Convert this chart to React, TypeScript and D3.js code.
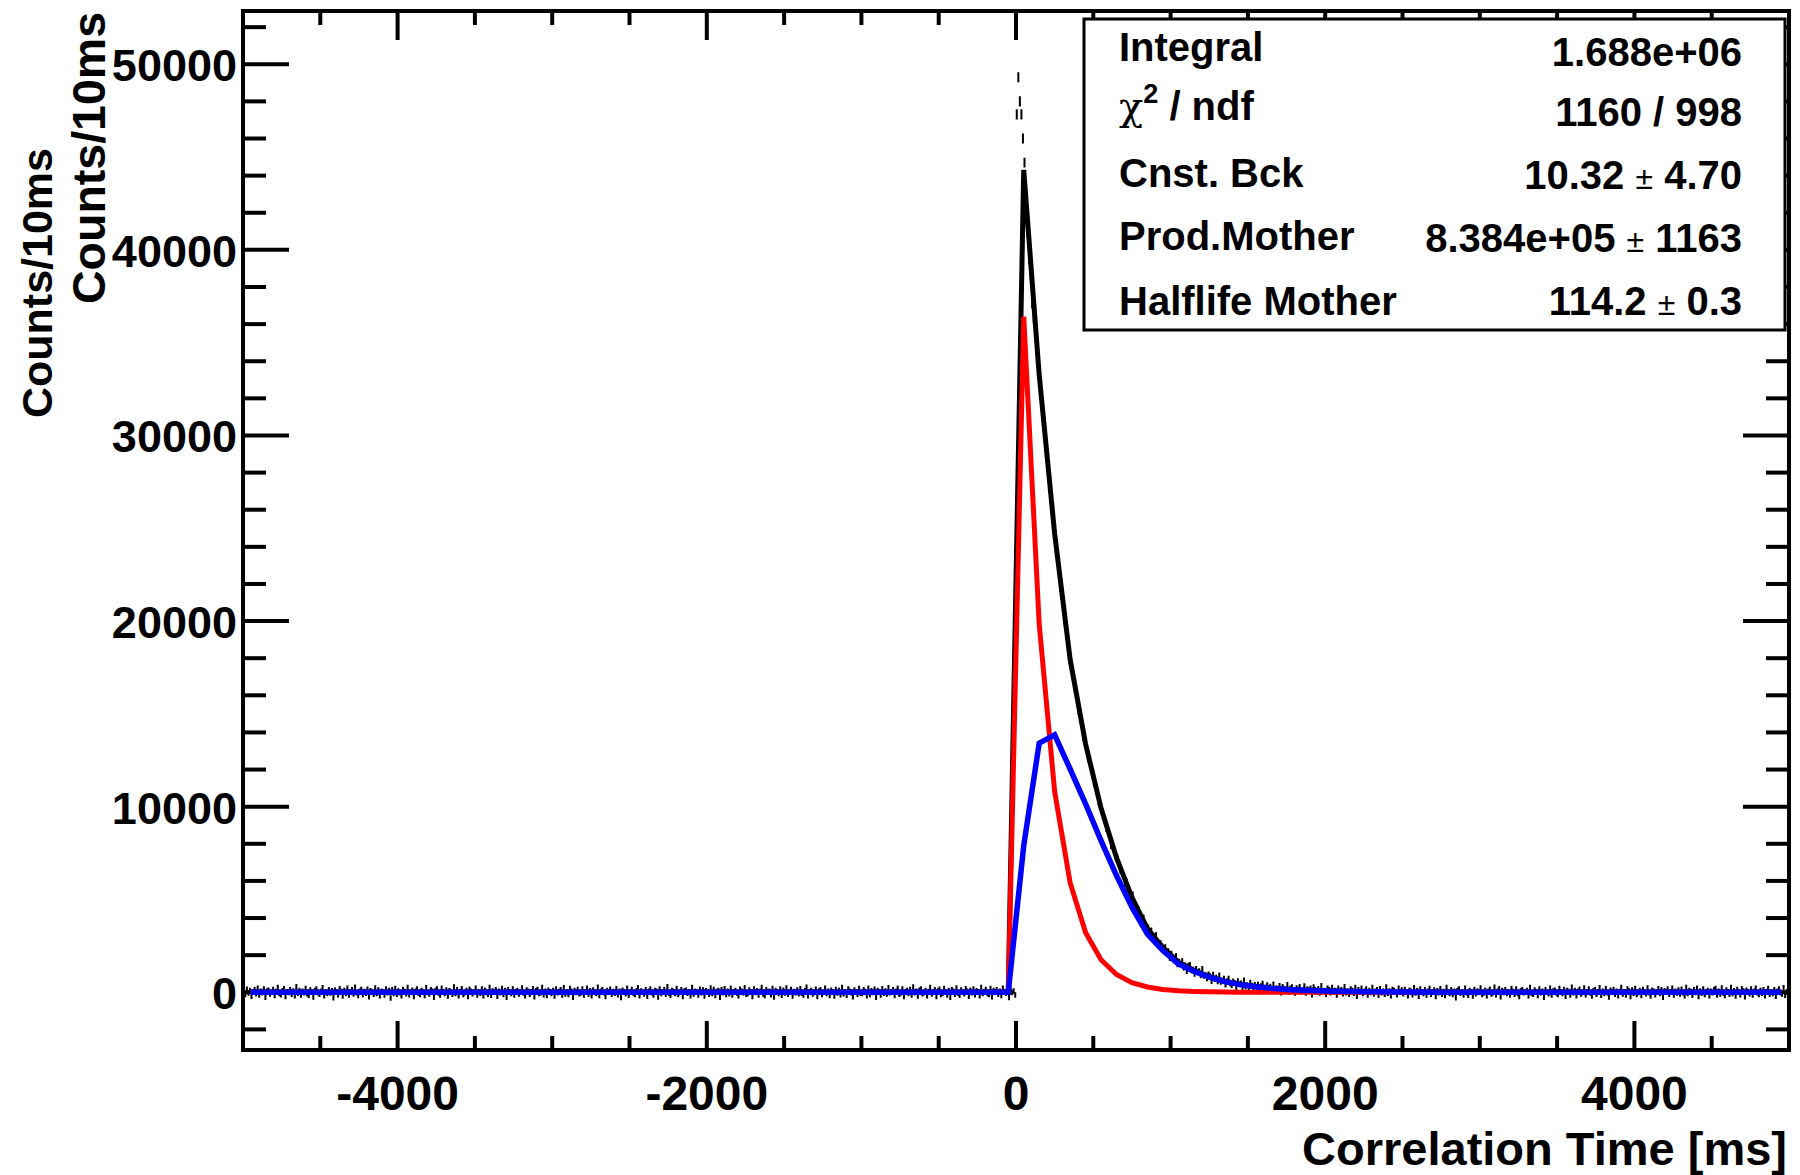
import React from "react";
import * as d3 from "d3";

// ---------- axis definitions ----------
const xDomain: [number, number] = [-5000, 5000];
const yDomain: [number, number] = [-3110, 52870];
const xTickLabels = [-4000, -2000, 0, 2000, 4000];
const xMinorStep = 500;
const yTickLabels = [0, 10000, 20000, 30000, 40000, 50000];
const yMinorStep = 2000;
const xTitle = "Correlation Time [ms]";
const yTitle = "Counts/10ms";

// ---------- histogram (10 ms bins from -5000 to 5000) ----------
const BIN_START = -5000;
const BIN_WIDTH = 10;
const BASE_ERROR = 150;

// t = -4995 ... -5 ms
const countsNeg = [
  30, -120, 160, -40, 90, -210, 10, 140, -80, 220, -150, 60, -20, 180, -260, 70, 110, -90, 0, 150,
  -170, 40, 250, -60, -130, 80, 190, -230, 20, -10, 130, -100, 70, -190, 300, -50, 100, -140, 50, -30,
  200, -80, -160, 120, 30, -250, 90, 170, -20, -110, 60, 240, -180, 10, -70, 140, -40, 80, -290, 110,
  20, -130, 190, 50, -200, 100, -60, 210, -150, 0, 130, -90, 270, -30, -170, 60, 150, -120, 40, -50,
  160, -240, 80, 20, -100, 230, -70, 120, -180, 50, 10, -140, 180, -20, 90, -310, 140, -60, 200, -110,
  70, -30, -190, 150, 40, -80, 260, -130, 0, 110, -220, 60, 170, -50, -120, 90, 30, -170, 240, -10,
  -90, 130, 50, -260, 100, 180, -40, -150, 210, 20, -70, 120, -200, 80, 10, -110, 280, -60, 140, -180,
  40, 190, -120, -20, 90, -230, 160, 60, -80, 0, 220, -140, 30, -50, 170, -190, 110, -10, -100, 250,
  -160, 70, 20, 140, -210, 50, -30, 200, -120, 90, -270, 130, 10, -60, 180, -150, 40, 100, -90, 30,
  230, -40, -180, 120, 60, -110, 0, 190, -240, 80, 150, -70, -20, 260, -130, 50, -170, 110, 20, -60,
  90, -200, 170, -30, 40, 130, -150, 240, -90, 10, -120, 200, 60, -260, 100, -10, 150, -80, -40, 180,
  -140, 30, 210, -100, 80, -190, 120, 0, -60, 270, -170, 50, 140, -30, -220, 90, 20, 160, -110, 40,
  -50, 190, -130, 60, -280, 110, 30, -80, 220, -160, 10, 150, -40, -120, 80, 240, -190, 70, 0, -90,
  130, -210, 50, 170, -20, -140, 100, 60, -250, 180, -70, 20, 130, -110, 290, -40, -160, 90, 40, -60,
  200, -120, -10, 140, -230, 70, 110, -50, 30, -180, 250, -90, 60, 0, -140, 160, -30, 120, -200, 80,
  10, -100, 230, -60, 150, -170, 40, 90, -270, 130, -20, 190, -120, 50, -80, 210, -150, 20, 100, -40,
  -190, 160, 70, -30, 240, -110, -60, 120, 30, -220, 180, -10, 80, -140, 50, 260, -90, -170, 140, 0,
  60, -130, 200, -250, 90, 20, -70, 170, -160, 110, -40, 230, -100, 10, 150, -200, 40, -20, 120, -80,
  190, -50, -140, 80, 270, -180, 30, 100, -90, -10, 160, -230, 70, 140, -120, 0, 210, -60, 50, -170,
  110, 20, -200, 150, -40, 90, -130, 250, -80, 30, -160, 180, 60, -20, -240, 120, 10, -100, 200, -50,
  -70, 140, 40, -190, 220, -120, 80, -10, 160, -260, 100, 30, -150, 190, -50, 70, -90, 240, -30, 0,
  130, -170, 60, 210, -110, -40, 180, -230, 20, 90, -60, 150, -140, 280, -20, 50, -200, 110, 170, -80,
  -30, 100, -180, 40, 250, -90, 0, 130, -220, 70, 160, -120, -50, 200, 10, -150, 90, -270, 140, 60,
  -100, 230, -40, -160, 120, 30, -80, 190, 50, -210, 110, -20, 170, -130, 80, 20, -190, 260, -70, 40,
  150, -60, -120, 200, -240, 90, 10, 140, -100, 60, -170, 220, 30, -40, 120, -280, 180, -10, 70, -150,
];

// t = 5 ... 2495 ms
const countsPeak = [
  47300, 49300, 48000, 47300, 46000, 44700, 41980, 40900, 39470, 38600,
  37090, 36270, 35380, 34210, 33800, 32720, 31640, 31010, 29900, 28830,
  28240, 27460, 26440, 25490, 25210, 24320, 23460, 22860, 21790, 21350,
  20750, 19900, 19170, 18930, 18170, 17560, 17220, 16420, 16170, 15890,
  15090, 14690, 14440, 13710, 13610, 13190, 12550, 12590, 12000, 11750,
  11230, 11260, 10680, 10190, 10180, 9820, 9400, 9400, 8790, 8660,
  8470, 7870, 8020, 7680, 7290, 7320, 6880, 6530, 6570, 6280,
  5830, 5990, 5580, 5490, 5100, 5280, 4790, 4690, 4330, 4470,
  4210, 3890, 4040, 3440, 3500, 3500, 3190, 3340, 2920, 3000,
  3100, 2700, 2460, 2650, 2510, 2240, 2440, 2170, 2220, 1840,
  2090, 1900, 1720, 1970, 1500, 1660, 1540, 1680, 1330, 1460,
  1130, 1440, 1480, 1180, 1230, 980, 1270, 1070, 1150, 910,
  1270, 880, 930, 740, 970, 880, 600, 950, 710, 800,
  580, 910, 560, 630, 740, 410, 610, 740, 470, 380,
  590, 510, 240, 600, 420, 480, 250, 640, 300, 390,
  250, 530, 370, 130, 400, 270, 420, 50, 340, 470,
  160, 260, 390, 80, 310, 170, 430, 90, 230, 120,
  350, -20, 290, 170, 80, 400, 20, 210, 280, 120,
  -40, 230, 150, 290, 20, 70, 330, -40, 180, 100,
  220, -130, 280, 140, 10, 190, -40, 350, 40, 90,
  -100, 220, 130, -30, 250, 10, 100, -150, 210, 40,
  140, -80, 290, -20, 50, -110, 170, 100, -50, 250,
  -210, 140, 10, 210, -70, 60, 180, -150, 100, -10,
  250, -90, 50, 130, -160, 190, -30, 60, -110, 280,
  -50, 70, -180, 150, 100, 0, -130, 210, 20, 120,
];
const peakErrors = [
  270, 275, 272, 270, 267, 264, 259, 257, 254, 252,
  250, 248, 246, 244, 242, 240, 238, 236, 234, 232,
  230, 229, 227, 225, 224, 222, 221, 219, 217, 216,
];

// t = 2505 ... 4995 ms
const countsTail = [
  -80, 150, 20, -190, 110, 60, -130, 240, -40, 90, -210, 170, 0, -60, 130, -150, 50, 200, -100, 30,
  120, -230, 80, -20, 190, -110, 40, -170, 260, 10, -70, 140, -120, 60, -290, 100, 180, -50, 20, -140,
  210, -30, -160, 90, 30, -200, 150, -80, 70, 0, 230, -120, -40, 110, -180, 50, 160, -90, -20, 270,
  -130, 60, 190, -240, 100, -10, 140, -70, 20, -150, 200, 40, -110, 170, -60, -220, 80, 130, -30, 10,
  90, -190, 250, -50, -100, 120, 30, -170, 180, -20, 60, -260, 140, 0, -80, 220, -140, 70, 110, -40,
  -120, 200, 10, -60, 150, -210, 90, 40, -150, 270, -30, 100, -180, 50, 160, -90, -10, 230, -130, 20,
  170, -40, -200, 80, 130, -110, 0, 240, -160, 60, -70, 190, -20, -250, 110, 30, 150, -100, 50, -180,
  40, 260, -90, 10, -140, 180, 70, -220, 120, -50, 200, -120, -10, 90, -170, 150, 20, -80, 230, -30,
  -200, 110, 60, -130, 20, 190, -60, 140, -270, 80, 0, 170, -110, 30, 220, -150, 50, -40, 120, -90,
  160, -20, -180, 250, -70, 100, 40, -160, 130, -10, 210, -230, 70, -50, 180, -120, 10, 90, -190, 60,
  -30, 140, 200, -140, 50, -90, 230, -40, -170, 120, 20, -110, 260, -60, 80, -200, 150, 0, -130, 190,
  70, -240, 110, 30, -80, 170, -150, 60, 220, -20, -120, 90, -50, 140, -180, 40, 200, -100, 10, -60,
  130, -210, 50, 180, -30, -90, 240, -160, 20, 100,
];

// ---------- fit functions, sampled every 100 ms from -4950 to 4950 ----------
const FIT_START = -4950;
const FIT_STEP = 100;
const fitTotal = [
  10, 10, 10, 10, 10, 10, 10, 10, 10, 10, 10, 10, 10, 10, 10, 10, 10, 10, 10, 10,
  10, 10, 10, 10, 10, 10, 10, 10, 10, 10, 10, 10, 10, 10, 10, 10, 10, 10, 10, 10,
  10, 10, 10, 10, 10, 10, 10, 10, 10, 10,
  44310, 33280, 24700, 17940, 13375, 9930, 7255, 5110, 3435, 2410,
  1625, 1186, 845, 599, 431, 314, 227, 166, 123, 90,
  68, 52, 40, 32, 26, 21, 18, 16, 14, 13,
  12, 11, 11, 11, 10, 10, 10, 10, 10, 10,
  10, 10, 10, 10, 10, 10, 10, 10, 10, 10,
];
const fitMother = [
  0, 0, 0, 0, 0, 0, 0, 0, 0, 0, 0, 0, 0, 0, 0, 0, 0, 0, 0, 0,
  0, 0, 0, 0, 0, 0, 0, 0, 0, 0, 0, 0, 0, 0, 0, 0, 0, 0, 0, 0,
  0, 0, 0, 0, 0, 0, 0, 0, 0, 0,
  36400, 19850, 10820, 5900, 3215, 1750, 955, 520, 285, 155,
  85, 46, 25, 14, 8, 4, 2, 1, 1, 0,
  0, 0, 0, 0, 0, 0, 0, 0, 0, 0,
  0, 0, 0, 0, 0, 0, 0, 0, 0, 0,
  0, 0, 0, 0, 0, 0, 0, 0, 0, 0,
];
const fitDaughter = [
  0, 0, 0, 0, 0, 0, 0, 0, 0, 0, 0, 0, 0, 0, 0, 0, 0, 0, 0, 0,
  0, 0, 0, 0, 0, 0, 0, 0, 0, 0, 0, 0, 0, 0, 0, 0, 0, 0, 0, 0,
  0, 0, 0, 0, 0, 0, 0, 0, 0, 0,
  7900, 13420, 13870, 12030, 10150, 8170, 6290, 4580, 3140, 2245,
  1530, 1130, 810, 575, 413, 300, 215, 155, 112, 80,
  58, 42, 30, 22, 16, 11, 8, 6, 4, 3,
  2, 1, 1, 1, 0, 0, 0, 0, 0, 0,
  0, 0, 0, 0, 0, 0, 0, 0, 0, 0,
];

// ---------- statistics box ----------
const statLabels = ["Integral", "χ^2 / ndf", "Cnst. Bck", "Prod.Mother", "Halflife Mother"];
const statValues = ["1.688e+06", "1160 / 998", "10.32 ± 4.70", "8.384e+05 ± 1163", "114.2 ± 0.3"];

// ---------- layout ----------
const W = 1800;
const H = 1175;
const FR = { left: 243, right: 1789, top: 11, bottom: 1050 };
const FONT = "'Liberation Sans', Arial, Helvetica, sans-serif";
const STAT_BOX = { x0: 1084, y0: 19, x1: 1785, y1: 330 };
const STAT_LABEL_X = 1119;
const STAT_VALUE_X = 1742;
const STAT_LABEL_BASE = [61, 120, 187, 250, 315];
const STAT_VALUE_BASE = [66, 126, 189, 252, 315];

function renderRich(s: string) {
  const parts: React.ReactNode[] = [];
  if (s.includes("^2")) {
    const [a, b] = s.split("^2");
    const rest = a.replace("χ", "");
    parts.push(
      <tspan key="chi" fontFamily="'DejaVu Serif', 'Liberation Serif', serif" fontWeight="normal">χ</tspan>
    );
    if (rest) parts.push(<tspan key="g">{rest}</tspan>);
    parts.push(<tspan key="sup" fontSize={27} dy={-17}>2</tspan>);
    parts.push(<tspan key="rest" dy={17}>{b}</tspan>);
    return parts;
  }
  const segs = s.split("±");
  segs.forEach((seg, i) => {
    if (i > 0) parts.push(<tspan key={"pm" + i} fontWeight="normal" fontSize={32}>±</tspan>);
    parts.push(<tspan key={"s" + i}>{seg}</tspan>);
  });
  return parts;
}

export default function App() {
  const x = d3.scaleLinear().domain(xDomain).range([FR.left, FR.right]);
  const y = d3.scaleLinear().domain(yDomain).range([FR.bottom, FR.top]);

  const counts = [...countsNeg, ...countsPeak, ...countsTail];
  const path = d3.path();
  counts.forEach((v, i) => {
    const t0 = BIN_START + i * BIN_WIDTH;
    const tc = t0 + BIN_WIDTH / 2;
    const k = i - countsNeg.length;
    const e = k >= 0 && k < peakErrors.length ? peakErrors[k] : BASE_ERROR;
    path.moveTo(x(tc), y(v + e));
    path.lineTo(x(tc), y(v - e));
    path.moveTo(x(t0), y(v));
    path.lineTo(x(t0 + BIN_WIDTH), y(v));
  });

  const line = d3
    .line<number>()
    .x((_, j) => x(FIT_START + j * FIT_STEP))
    .y((v) => y(v));

  const xMinor = d3.range(xDomain[0] + xMinorStep, xDomain[1], xMinorStep).filter((t) => !xTickLabels.includes(t));
  const yMinor = d3.range(-2000, yDomain[1], yMinorStep).filter((t) => !yTickLabels.includes(t));

  const majX = 29, minX = 14, majY = 46, minY = 23;

  return (
    <svg
      width={W}
      height={H}
      viewBox={`0 0 ${W} ${H}`}
      style={{ position: "absolute", left: 0, top: 0, background: "#fff" }}
      fontFamily={FONT}
      fontWeight="bold"
    >
      <rect x={0} y={0} width={W} height={H} fill="#fff" />

      {/* axis ticks */}
      <g stroke="#000" strokeWidth={4} fill="none">
        {xTickLabels.map((t) => (
          <g key={"xM" + t}>
            <line x1={x(t)} x2={x(t)} y1={FR.bottom} y2={FR.bottom - majX} />
            <line x1={x(t)} x2={x(t)} y1={FR.top} y2={FR.top + majX} />
          </g>
        ))}
        {xMinor.map((t) => (
          <g key={"xm" + t}>
            <line x1={x(t)} x2={x(t)} y1={FR.bottom} y2={FR.bottom - minX} />
            <line x1={x(t)} x2={x(t)} y1={FR.top} y2={FR.top + minX} />
          </g>
        ))}
        {yTickLabels.map((t) => (
          <g key={"yM" + t}>
            <line x1={FR.left} x2={FR.left + majY} y1={y(t)} y2={y(t)} />
            <line x1={FR.right} x2={FR.right - majY} y1={y(t)} y2={y(t)} />
          </g>
        ))}
        {yMinor.map((t) => (
          <g key={"ym" + t}>
            <line x1={FR.left} x2={FR.left + minY} y1={y(t)} y2={y(t)} />
            <line x1={FR.right} x2={FR.right - minY} y1={y(t)} y2={y(t)} />
          </g>
        ))}
        <rect x={FR.left} y={FR.top} width={FR.right - FR.left} height={FR.bottom - FR.top} />
      </g>

      {/* tick labels */}
      <g fontSize={45} textAnchor="end">
        {yTickLabels.map((t) => (
          <text key={"yl" + t} x={237} y={y(t) + 17}>
            {String(t)}
          </text>
        ))}
      </g>
      <g fontSize={48} textAnchor="middle">
        {xTickLabels.map((t) => (
          <text key={"xl" + t} x={x(t)} y={1110}>
            {String(t)}
          </text>
        ))}
      </g>

      {/* axis titles */}
      <text x={1787} y={1165} fontSize={47} textAnchor="end">
        {xTitle}
      </text>
      <text transform="translate(52,148) rotate(-90)" fontSize={43} textAnchor="end">
        {yTitle}
      </text>
      <text transform="translate(105,12) rotate(-90)" fontSize={46.5} textAnchor="end">
        {yTitle}
      </text>

      {/* data */}
      <path d={path.toString()} stroke="#000" strokeWidth={2} fill="none" />

      {/* fits */}
      <path d={line(fitTotal) || ""} stroke="#000" strokeWidth={5} fill="none" />
      <path d={line(fitMother) || ""} stroke="#ff0000" strokeWidth={5} fill="none" />
      <path d={line(fitDaughter) || ""} stroke="#0000ff" strokeWidth={5.5} fill="none" />

      {/* stats box */}
      <rect
        x={STAT_BOX.x0}
        y={STAT_BOX.y0}
        width={STAT_BOX.x1 - STAT_BOX.x0}
        height={STAT_BOX.y1 - STAT_BOX.y0}
        fill="#fff"
        stroke="#000"
        strokeWidth={3}
      />
      <g fontSize={40}>
        {statLabels.map((s, i) => (
          <text key={"sl" + i} x={STAT_LABEL_X} y={STAT_LABEL_BASE[i]}>
            {renderRich(s)}
          </text>
        ))}
        {statValues.map((s, i) => (
          <text key={"sv" + i} x={STAT_VALUE_X} y={STAT_VALUE_BASE[i]} textAnchor="end">
            {renderRich(s)}
          </text>
        ))}
      </g>
    </svg>
  );
}
